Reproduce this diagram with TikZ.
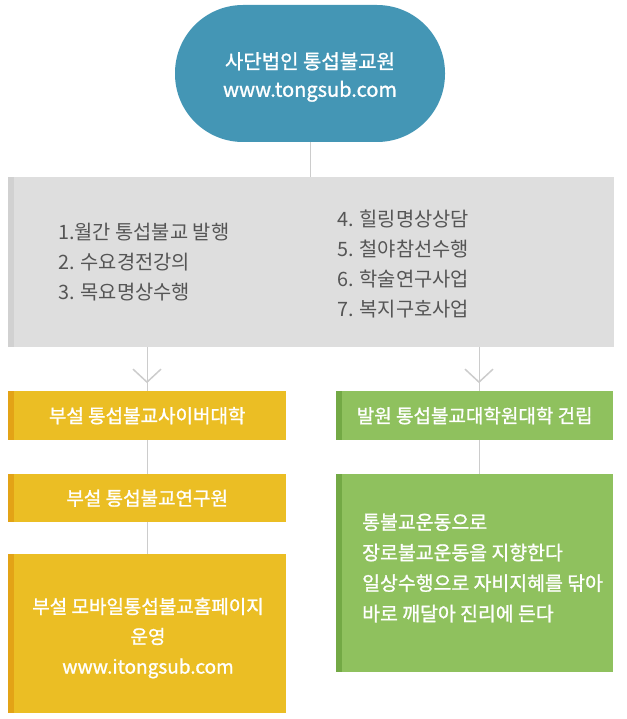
\documentclass[tikz,border=0pt]{standalone}
\usepackage{fontspec}
\setmainfont{Noto Sans CJK KR}
\newfontfamily\krm[FakeBold=1.2]{Noto Sans CJK KR}
\usetikzlibrary{arrows.meta,decorations.markings}
\definecolor{cTop}{HTML}{4496B5}
\definecolor{cGray}{HTML}{DEDEDE}
\definecolor{cGrayS}{HTML}{D1D1D1}
\definecolor{cYel}{HTML}{EBBE24}
\definecolor{cYelS}{HTML}{E3A316}
\definecolor{cGrn}{HTML}{8FC15E}
\definecolor{cGrnS}{HTML}{73A945}
\definecolor{cLine}{HTML}{CCCCCC}
\definecolor{cTxt}{HTML}{555555}
\begin{document}
\begin{tikzpicture}[x=1pt,y=-1pt,
  strip/.style={path picture={\fill[#1] (path picture bounding box.south west) rectangle ([xshift=6pt]path picture bounding box.north west);}},
  panel/.style={rectangle, inner sep=0pt, anchor=north west, text=white,
    font=\krm\fontsize{19}{30}\selectfont, align=center},
  ybox/.style={panel, fill=cYel, strip=cYelS, minimum width=278pt},
  gbox/.style={panel, fill=cGrn, strip=cGrnS, minimum width=277pt},
  wtext/.style={inner sep=0pt, text=white, font=\krm\fontsize{19}{30}\selectfont},
  conn/.style={draw=cLine, line width=1pt},
  chev/.style={postaction={decorate}, decoration={markings,
    mark=at position #1 with {\arrow[cLine]{Straight Barb[length=13pt,width=28pt,line width=1.5pt]}}}},
  item/.style={anchor=west, inner sep=0pt, align=left, text=cTxt,
    font=\fontsize{19.8}{30}\selectfont}
]
\useasboundingbox (0,0) rectangle (626,719);

% top pill
\node[rectangle, rounded corners=68pt, fill=cTop, minimum width=270pt, minimum height=137pt,
  inner sep=0pt] (top) at (310,73.5) {};
\node[wtext, align=center, font=\krm\fontsize{20}{28}\selectfont] (topt) at (310,77)
  {사단법인 통섭불교원\\www.tongsub.com};

% gray box
\node[rectangle, anchor=north west, fill=cGray, strip=cGrayS, minimum width=606pt,
  minimum height=170pt, inner sep=0pt] (gray) at (8,177) {};
\node[item] (listL) at (58,262) {1.월간 통섭불교 발행\\2. 수요경전강의\\3. 목요명상수행};
\node[item] (listR) at (337,264) {4. 힐링명상상담\\5. 철야참선수행\\6. 학술연구사업\\7. 복지구호사업};

% left column
\node[ybox, minimum height=49pt] (y1) at (8,391) {부설 통섭불교사이버대학};
\node[ybox, minimum height=48pt] (y2) at (8,474) {부설 통섭불교연구원};
\node[ybox, minimum height=159pt] (y3) at (8,554) {};
\node[wtext, align=center] (y3t) at (148,638) {부설 모바일통섭불교홈페이지\\운영\\www.itongsub.com};

% right column
\node[gbox, minimum height=49pt] (g1) at (336,391) {발원 통섭불교대학원대학 건립};
\node[gbox, minimum height=198pt] (g2) at (336,474) {};
\node[wtext, anchor=west, align=left, font=\krm\fontsize{19.4}{30.5}\selectfont]
  (g2t) at (362,568) {통불교운동으로\\장로불교운동을 지향한다\\일상수행으로 자비지혜를 닦아\\바로 깨달아 진리에 든다};

% connectors
\coordinate (cx) at (310,0);
\coordinate (lx) at (147,0);
\coordinate (rx) at (479,0);
\draw[conn] (top.south -| cx) -- (gray.north -| cx);
\draw[conn, chev=0.82] (gray.south -| lx) -- (y1.north -| lx);
\draw[conn, chev=0.82] (gray.south -| rx) -- (g1.north -| rx);
\draw[conn] (y1.south -| lx) -- (y2.north -| lx);
\draw[conn] (y2.south -| lx) -- (y3.north -| lx);
\draw[conn] (g1.south -| rx) -- (g2.north -| rx);
\end{tikzpicture}
\end{document}
